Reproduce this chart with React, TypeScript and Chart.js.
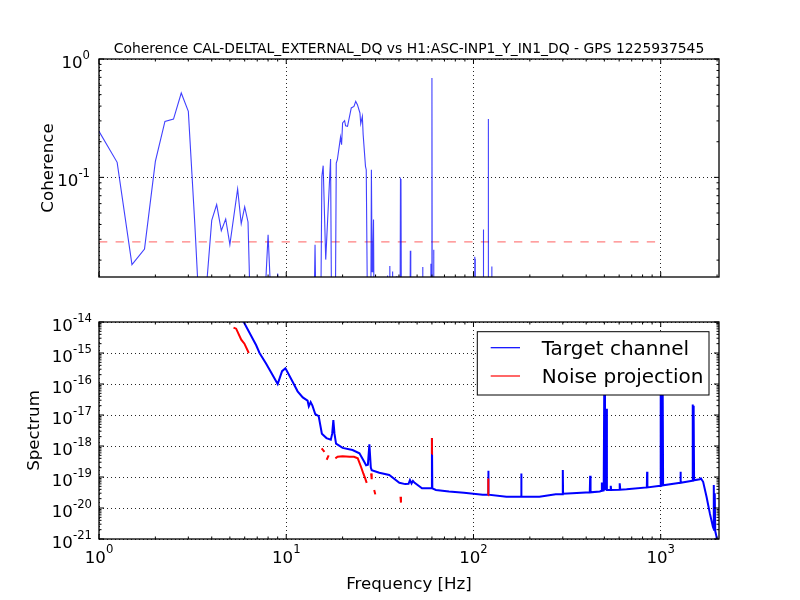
import React, { useEffect, useRef } from "react";
import { Chart, registerables } from "chart.js";

Chart.register(...registerables);

const FONT = "'DejaVu Sans', 'Liberation Sans', sans-serif";

// ---- text ----
const titleText = "Coherence CAL-DELTAL_EXTERNAL_DQ vs H1:ASC-INP1_Y_IN1_DQ - GPS 1225937545";
const xAxisLabel = "Frequency [Hz]";
const cohAxisLabel = "Coherence";
const specAxisLabel = "Spectrum";
const legendLabels = ["Target channel", "Noise projection"];

// ---- axis ranges & tick exponents ----
const freqRange = [1, 2048];
const cohRange = [0.0144, 1];
const specRange = [1e-21, 1e-14];
const freqTickExps = [0, 1, 2, 3];
const cohTickExps = [0, -1];
const specTickExps = [-14, -15, -16, -17, -18, -19, -20, -21];

// ---- coherence (top) ----
const cohFreq = [
  1.0, 1.25, 1.5, 1.75, 2.0, 2.25, 2.5, 2.75, 3.0, 3.25, 3.5, 3.75, 4.0, 4.25, 4.5, 4.75, 5.0, 5.5, 5.75, 6.0, 6.25, 6.5,
  7.5, 7.75, 8.0, 8.25, 8.75, 9.0, 9.25, 14.0, 14.25, 14.5, 15.25, 15.5, 15.75, 16.25, 17.25, 17.5, 18.25, 18.5, 18.75,
  19.5, 19.75, 20.0, 20.5, 20.75, 21.25, 22.25, 23.0, 23.5, 24.0, 24.75, 25.0, 25.5, 25.75, 26.5, 26.75, 27.25, 28.25,
  28.5, 28.75, 29.0, 29.25, 29.5, 34.5, 34.75, 35.0, 35.5, 35.75, 36.0, 36.75, 37.0, 37.25, 38.5, 38.75, 39.0, 40.5,
  40.75, 41.0, 41.25, 45.75, 46.0, 46.25, 53.25, 53.5, 53.75, 59.0, 59.25, 59.5, 60.0, 60.25, 61.0, 61.25, 61.5,
  101.25, 101.5, 101.75, 102.0, 102.25, 112.75, 113.0, 113.25, 119.75, 120.0, 120.25, 125.0, 125.25, 125.5,
];
const cohVal = [
  0.245, 0.134, 0.0183, 0.0248, 0.1365, 0.297, 0.311, 0.516, 0.361, 0.04, 0.004, 0.012, 0.0433, 0.0588, 0.0355, 0.0445,
  0.027, 0.0798, 0.0406, 0.0562, 0.042, 0.004,
  0.004, 0.012, 0.0328, 0.011, 0.006, 0.0154, 0.006, 0.004, 0.027, 0.004, 0.004, 0.102, 0.1256, 0.0202, 0.143, 0.004,
  0.004, 0.132, 0.141,
  0.219, 0.189, 0.288, 0.301, 0.273, 0.27, 0.386, 0.398, 0.438, 0.411, 0.35, 0.284, 0.327, 0.23, 0.124, 0.116, 0.004,
  0.004,
  0.116, 0.016, 0.022, 0.044, 0.004, 0.004, 0.0148, 0.004, 0.004, 0.0178, 0.004, 0.004, 0.016, 0.004, 0.004, 0.0146,
  0.004, 0.004,
  0.097, 0.095, 0.004, 0.004, 0.024, 0.004, 0.004, 0.0175, 0.004, 0.004, 0.0186, 0.004, 0.691, 0.004, 0.004, 0.0245,
  0.004,
  0.004, 0.0213, 0.004, 0.0205, 0.004, 0.004, 0.0362, 0.004, 0.004, 0.311, 0.004, 0.004, 0.0177, 0.004,
];
const thresholdFreq = [1, 1000];
const thresholdVal = [0.0285, 0.0285];

// ---- spectrum (bottom) ----
const specFreq = [
  5.6, 5.93, 6.91, 7.2, 7.8, 8.47, 9.0, 9.5, 9.9, 10.2, 10.8, 11.5, 12.25, 13.0, 13.2, 13.5, 13.8, 14.3, 14.9, 15.5,
  16.4, 17.3, 17.6, 17.85, 18.1, 18.45, 20.0, 22.6, 24.6, 26.0, 26.7, 27.3, 27.8, 28.3, 28.6, 31.4, 35.5, 40.2, 43.2,
  45.0, 45.8, 46.7, 47.5, 48.5, 53.1, 59.7, 60.0, 60.3, 63, 74, 89, 112, 119.6, 120, 120.4, 150, 179.5, 180, 180.5,
  225, 275, 299, 300, 301, 337, 418, 420, 422, 473, 483, 485, 488, 496, 500, 504, 509, 512, 516, 538, 541, 544, 600,
  604, 608, 657, 843, 846, 849, 995, 1000, 1008, 1018, 1024, 1030, 1272, 1276, 1280, 1476, 1480, 1486, 1494, 1500,
  1508, 1618, 1640, 1685, 1757, 1830, 1900, 1915, 1921, 1928, 1944, 1955, 1986, 2030, 2048,
];
const specVal = [
  1.5e-14, 1.0e-14, 1.78e-15, 1.0e-15, 4.6e-16, 1.9e-16, 1.0e-16, 2.6e-16, 3.2e-16, 2.3e-16, 1.2e-16, 5.8e-17, 3.7e-17,
  2.9e-17, 1.9e-17, 2.6e-17, 2.0e-17, 1.06e-17, 9.2e-18, 2.5e-18,
  1.8e-18, 1.6e-18, 2.5e-18, 6.8e-18, 2.5e-18, 1.2e-18, 8.7e-19, 7.4e-19, 5.8e-19, 3.2e-19, 2.4e-19, 2.5e-19, 1.13e-18,
  2.0e-19, 1.67e-19, 1.37e-19, 1.16e-19, 6.5e-20, 5.9e-20,
  6.0e-20, 8.0e-20, 6.2e-20, 7.5e-20, 6.5e-20, 4.3e-20, 4.3e-20, 1.8e-18, 4.3e-20, 3.8e-20, 3.4e-20, 3.1e-20, 2.7e-20,
  2.7e-20, 1.6e-19, 2.7e-20, 2.3e-20, 2.3e-20, 1.3e-19, 2.3e-20,
  2.3e-20, 2.8e-20, 2.8e-20, 1.67e-19, 2.9e-20, 3.0e-20, 3.2e-20, 1.1e-19, 3.2e-20, 3.4e-20, 3.6e-20, 6.7e-20, 3.6e-20,
  3.7e-20, 3e-16, 4.0e-20, 4.0e-20, 1.6e-17, 3.8e-20, 3.8e-20, 5.2e-20, 3.8e-20, 3.9e-20,
  6.3e-20, 3.9e-20, 4.0e-20, 4.6e-20, 1.48e-19, 4.6e-20, 5.2e-20, 4e-16, 5.2e-20, 5.3e-20, 2e-16, 5.4e-20, 6.5e-20,
  1.48e-19, 6.5e-20, 7.6e-20, 2.2e-17, 7.7e-20, 2.0e-17, 8e-18,
  7.8e-20, 8.4e-20, 9.0e-20, 7.0e-20, 2.3e-20, 6.7e-21, 2.5e-21, 2.2e-21, 5.5e-20, 2.0e-21, 3.0e-20, 1.8e-21, 1.2e-21,
  3e-22, 2e-22,
];
const projFreq = [
  5.23, 5.4, 5.75, 5.98, 6.31, 6.5, 15.46, 16.0, 16.2, 16.44, 16.85, 17.0, 18.3, 18.8, 20.0, 21.8, 23.0, 24.1, 25.1,
  25.8, 26.4, 26.9, 27.2, 28.4, 28.6, 28.9, 29.5, 29.9, 30.5, 40.75, 41.0, 41.5, 59.95, 60.0, 60.5, 119.95, 120.0,
];
const projVal = [
  6.6e-15, 6.1e-15, 2.7e-15, 2.0e-15, 1.0e-15, null, 8.4e-19, 6.5e-19, null, 3.6e-19, 5.0e-19, null, 4.0e-19, 4.5e-19,
  4.7e-19, 4.5e-19, 4.5e-19, 4.0e-19, 2.1e-19,
  1.3e-19, 9.0e-20, 6.5e-20, null, 1.3e-19, 8.5e-20, null, 3.8e-20, 2.75e-20, null, 2.3e-20, 1.5e-20, null, 5.5e-19,
  1.8e-18, null, 2.6e-20, 9.0e-20,
];

const toPoints = (xs: number[], ys: (number | null)[]) => xs.map((x, i) => ({ x, y: ys[i] }));

const decadeTicks = (exps: number[]) => (scale: any) => {
  scale.ticks = exps.map((e) => ({ value: Math.pow(10, e) }));
};

const decorPlugin = {
  id: "decor",
  afterDraw(chart: any, _args: any, o: any) {
    const { ctx, chartArea: a } = chart;
    const xs = chart.scales.x;
    const ys = chart.scales.y;
    ctx.save();
    ctx.strokeStyle = "#000";
    ctx.fillStyle = "#000";

    // tick marks (inward, all four sides)
    ctx.lineWidth = 1;
    const drawTicks = (scale: any, horizontal: boolean) => {
      const lo = scale.min, hi = scale.max;
      const e0 = Math.floor(Math.log10(lo)), e1 = Math.ceil(Math.log10(hi));
      for (let e = e0; e <= e1; e++) {
        for (let k = 1; k <= 9; k++) {
          const v = k * Math.pow(10, e);
          if (v < lo * (1 - 1e-9) || v > hi * (1 + 1e-9)) continue;
          const len = k === 1 ? 5 : 2.5;
          const p = scale.getPixelForValue(v);
          ctx.beginPath();
          if (horizontal) {
            ctx.moveTo(p, a.bottom); ctx.lineTo(p, a.bottom - len);
            ctx.moveTo(p, a.top); ctx.lineTo(p, a.top + len);
          } else {
            ctx.moveTo(a.left, p); ctx.lineTo(a.left + len, p);
            ctx.moveTo(a.right, p); ctx.lineTo(a.right - len, p);
          }
          ctx.stroke();
        }
      }
    };
    drawTicks(xs, true);
    drawTicks(ys, false);

    // frame
    ctx.lineWidth = 1.3;
    ctx.strokeRect(a.left, a.top, a.right - a.left, a.bottom - a.top);

    const bigFont = `16.67px ${FONT}`;
    const supFont = `11.67px ${FONT}`;

    // y tick labels
    o.yTickExps.forEach((e: number) => {
      const p = ys.getPixelForValue(Math.pow(10, e));
      const sup = String(e);
      ctx.font = supFont;
      const ws = ctx.measureText(sup).width;
      ctx.font = bigFont;
      const wb = ctx.measureText("10").width;
      const right = a.left - o.yTickGap;
      ctx.textAlign = "left";
      ctx.textBaseline = "alphabetic";
      ctx.fillText("10", right - ws - wb, p + 9);
      ctx.font = supFont;
      ctx.fillText(sup, right - ws, p);
    });

    // x tick labels
    if (o.xTickExps) {
      o.xTickExps.forEach((e: number) => {
        const p = xs.getPixelForValue(Math.pow(10, e));
        const sup = String(e);
        ctx.font = supFont;
        const ws = ctx.measureText(sup).width;
        ctx.font = bigFont;
        const wb = ctx.measureText("10").width;
        const start = p - (wb + ws) / 2;
        ctx.textAlign = "left";
        ctx.fillText("10", start, a.bottom + 23.5);
        ctx.font = supFont;
        ctx.fillText(sup, start + wb, a.bottom + 13.5);
      });
    }

    // axis labels
    ctx.font = bigFont;
    ctx.textAlign = "center";
    ctx.save();
    ctx.translate(o.yLabelX, (a.top + a.bottom) / 2);
    ctx.rotate(-Math.PI / 2);
    ctx.fillText(o.yLabel, 0, 0);
    ctx.restore();
    if (o.xLabel) ctx.fillText(o.xLabel, (a.left + a.right) / 2, o.xLabelY);

    // title
    if (o.title) {
      ctx.font = `13.9px ${FONT}`;
      ctx.fillText(o.title, (a.left + a.right) / 2, o.titleY);
    }

    // legend
    if (o.legend) {
      const L = o.legend;
      ctx.fillStyle = "#fff";
      ctx.fillRect(L.left, L.top, L.right - L.left, L.bottom - L.top);
      ctx.strokeStyle = "#000";
      ctx.lineWidth = 1;
      ctx.strokeRect(L.left, L.top, L.right - L.left, L.bottom - L.top);
      ctx.font = `20px ${FONT}`;
      ctx.textAlign = "left";
      chart.data.datasets.forEach((ds: any, i: number) => {
        const y = L.top + 16 + i * 28.3;
        ctx.strokeStyle = ds.borderColor;
        ctx.lineWidth = 1.2;
        ctx.beginPath();
        ctx.moveTo(L.left + 13.4, y);
        ctx.lineTo(L.left + 42.7, y);
        ctx.stroke();
        ctx.fillStyle = "#000";
        ctx.fillText(ds.label, L.left + 64.4, y + 7);
      });
    }
    ctx.restore();
  },
};

const logAxis = (range: number[], exps: number[]) => ({
  type: "logarithmic" as const,
  min: range[0],
  max: range[1],
  display: true,
  grid: { color: "rgba(0,0,0,0.85)", lineWidth: 1, drawTicks: false },
  border: { display: false, dash: [1, 3] },
  ticks: { display: false },
  afterBuildTicks: decadeTicks(exps),
});

function topConfig(): any {
  return {
    type: "line",
    data: {
      datasets: [
        {
          label: "Coherence",
          data: toPoints(cohFreq, cohVal),
          borderColor: "rgba(0,0,255,0.75)",
          borderWidth: 1.1,
          pointRadius: 0,
          clip: 0,
        },
        {
          label: "Threshold",
          data: toPoints(thresholdFreq, thresholdVal),
          borderColor: "rgba(255,0,0,0.5)",
          borderWidth: 1.4,
          borderDash: [8.3, 8.3],
          pointRadius: 0,
          clip: 0,
        },
      ],
    },
    options: {
      animation: false,
      responsive: false,
      devicePixelRatio: 1,
      layout: { padding: { left: 99, right: 81, top: 59, bottom: 23 } },
      scales: { x: logAxis(freqRange, freqTickExps), y: logAxis(cohRange, cohTickExps) },
      plugins: {
        legend: { display: false },
        tooltip: { enabled: false },
        decor: {
          title: titleText,
          titleY: 53,
          yLabel: cohAxisLabel,
          yLabelX: 53,
          yTickExps: cohTickExps,
          yTickGap: 9,
          xTickExps: null,
        },
      },
    },
    plugins: [decorPlugin],
  };
}

function bottomConfig(): any {
  return {
    type: "line",
    data: {
      datasets: [
        {
          label: legendLabels[0],
          data: toPoints(specFreq, specVal),
          borderColor: "#0000ff",
          borderWidth: 2,
          pointRadius: 0,
          clip: 0,
          order: 1,
        },
        {
          label: legendLabels[1],
          data: toPoints(projFreq, projVal),
          borderColor: "#ff0000",
          borderWidth: 2,
          pointRadius: 0,
          spanGaps: false,
          clip: 0,
          order: 0,
        },
      ],
    },
    options: {
      animation: false,
      responsive: false,
      devicePixelRatio: 1,
      layout: { padding: { left: 99, right: 81, top: 22, bottom: 61 } },
      scales: { x: logAxis(freqRange, freqTickExps), y: logAxis(specRange, specTickExps) },
      plugins: {
        legend: { display: false },
        tooltip: { enabled: false },
        decor: {
          yLabel: specAxisLabel,
          yLabelX: 39,
          yTickExps: specTickExps,
          yTickGap: 7,
          xTickExps: freqTickExps,
          xLabel: xAxisLabel,
          xLabelY: 289,
          legend: { left: 477.3, top: 31.7, right: 709, bottom: 95 },
        },
      },
    },
    plugins: [decorPlugin],
  };
}

function ChartCanvas({ make, top }: { make: () => any; top: number }) {
  const ref = useRef<HTMLCanvasElement>(null);
  useEffect(() => {
    const chart = new Chart(ref.current as HTMLCanvasElement, make());
    return () => chart.destroy();
  }, []);
  return (
    <canvas
      ref={ref}
      width={800}
      height={300}
      style={{ position: "absolute", left: 0, top, width: 800, height: 300, display: "block" }}
    />
  );
}

export default function App() {
  return (
    <div style={{ position: "absolute", left: 0, top: 0, width: 800, height: 600, background: "#fff" }}>
      <ChartCanvas make={topConfig} top={0} />
      <ChartCanvas make={bottomConfig} top={300} />
    </div>
  );
}
